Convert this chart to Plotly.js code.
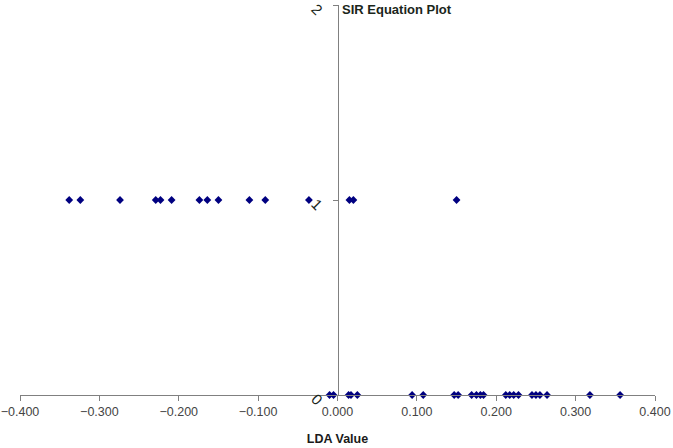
<!DOCTYPE html>
<html>
<head>
<meta charset="utf-8">
<script src="https://cdn.plot.ly/plotly-3.0.1.min.js"></script>
<style>
  html, body { margin: 0; padding: 0; background: white; }
  #chart { width: 673px; height: 448px; }
</style>
</head>
<body>
<div id="chart"></div>
<script>
// LDA values for the group plotted at 1
const ldaGroup1 = [-0.338, -0.324, -0.274, -0.229, -0.223, -0.209, -0.174, -0.164,
    -0.150, -0.111, -0.091, -0.036, 0.015, 0.020, 0.150];
// LDA values for the group plotted at 0
const ldaGroup0 = [-0.010, -0.005, 0.014, 0.017, 0.025, 0.094, 0.108, 0.147, 0.152,
    0.169, 0.175, 0.180, 0.184, 0.212, 0.217, 0.222, 0.228, 0.245, 0.250, 0.255,
    0.264, 0.318, 0.356];

const xTicks = [-0.4, -0.3, -0.2, -0.1, 0, 0.1, 0.2, 0.3, 0.4];
const yTicks = [0, 1, 2];

const markerStyle = { symbol: 'diamond', size: 6, color: '#000080' };

const traces = [
    {
        x: ldaGroup1,
        y: ldaGroup1.map(() => 1),
        mode: 'markers',
        type: 'scatter',
        marker: markerStyle,
        cliponaxis: false
    },
    {
        x: ldaGroup0,
        y: ldaGroup0.map(() => 0),
        mode: 'markers',
        type: 'scatter',
        marker: markerStyle,
        cliponaxis: false
    }
];

const layout = {
    width: 673,
    height: 448,
    showlegend: false,
    paper_bgcolor: 'white',
    plot_bgcolor: 'white',
    margin: { l: 20, r: 18, t: 5, b: 53 },
    font: { family: 'Liberation Sans, Arial, sans-serif', color: '#333' },
    title: {
        text: 'SIR Equation Plot',
        x: 342 / 673,
        xanchor: 'left',
        y: 1 - 9 / 448,
        yanchor: 'middle',
        font: { size: 13, weight: 'bold', color: '#1a261a' }
    },
    xaxis: {
        range: [-0.4, 0.4],
        tickvals: xTicks,
        tickformat: '.3f',
        showgrid: false,
        zeroline: false,
        showline: true,
        linecolor: '#808080',
        linewidth: 1,
        ticks: 'outside',
        ticklen: 5,
        tickcolor: '#808080',
        ticklabeloverflow: 'allow',
        tickfont: { size: 12.5, color: '#444' },
        title: {
            text: 'LDA Value',
            standoff: 16,
            font: { size: 12.5, weight: 'bold', color: '#1a1a1a' }
        }
    },
    yaxis: {
        range: [0, 2],
        tickvals: yTicks,
        anchor: 'free',
        position: 0.5,
        showgrid: false,
        zeroline: false,
        showline: true,
        linecolor: '#808080',
        linewidth: 1,
        ticks: 'outside',
        ticklen: 5,
        tickcolor: '#808080',
        tickangle: 45,
        ticklabelstandoff: 8,
        ticklabelshift: 8,
        ticklabeloverflow: 'allow',
        tickfont: { size: 15, color: '#1a261a' }
    }
};

Plotly.newPlot('chart', traces, layout, { displayModeBar: false, responsive: false });
</script>
</body>
</html>
